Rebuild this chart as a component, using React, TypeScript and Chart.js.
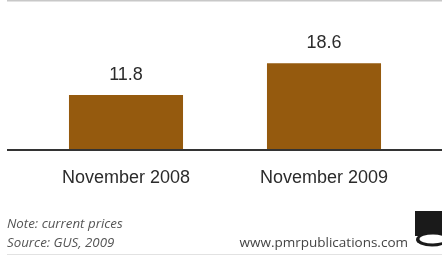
import React, { useEffect, useRef } from "react";
import { Chart, registerables } from "chart.js";

Chart.register(...registerables);

const categories = ["November 2008", "November 2009"];
const values = [11.8, 18.6];
const valueLabels = ["11.8", "18.6"];
const noteLines = ["Note: current prices", "Source: GUS, 2009"];
const website = "www.pmrpublications.com";

const decorPlugin = {
  id: "decor",
  afterDraw(chart: any) {
    const ctx = chart.ctx;
    const area = chart.chartArea;
    ctx.save();
    // top thin line
    ctx.strokeStyle = "#c8c8c8";
    ctx.lineWidth = 1.5;
    ctx.beginPath();
    ctx.moveTo(7, 0.75);
    ctx.lineTo(442, 0.75);
    ctx.stroke();
    // baseline
    ctx.strokeStyle = "#333333";
    ctx.lineWidth = 2;
    ctx.beginPath();
    ctx.moveTo(7, area.bottom);
    ctx.lineTo(442, area.bottom);
    ctx.stroke();
    // bottom thin line
    ctx.strokeStyle = "#e2e2e2";
    ctx.lineWidth = 1;
    ctx.beginPath();
    ctx.moveTo(7, 254.5);
    ctx.lineTo(442, 254.5);
    ctx.stroke();
    // value labels
    const meta = chart.getDatasetMeta(0);
    ctx.fillStyle = "#2b2b2b";
    ctx.font = "18px 'Liberation Sans', Arial, sans-serif";
    ctx.textAlign = "center";
    ctx.textBaseline = "middle";
    meta.data.forEach((bar: any, i: number) => {
      ctx.fillText(valueLabels[i], bar.x, bar.y - 20);
    });
    // notes
    ctx.fillStyle = "#555555";
    ctx.font = "italic 13.3px 'Open Sans', 'Liberation Sans', sans-serif";
    ctx.textAlign = "left";
    ctx.fillText(noteLines[0], 7, 224);
    ctx.fillText(noteLines[1], 7, 243);
    ctx.fillStyle = "#444444";
    ctx.font = "13.5px 'Open Sans', 'Liberation Sans', sans-serif";
    ctx.textAlign = "right";
    ctx.fillText(website, 408, 243);
    // logo
    ctx.fillStyle = "#1a1a1a";
    ctx.fillRect(415, 211, 27, 25);
    ctx.beginPath();
    ctx.ellipse(432, 239.5, 16, 7, 0, 0, Math.PI * 2);
    ctx.fill();
    ctx.fillStyle = "#ffffff";
    ctx.beginPath();
    ctx.ellipse(433, 239, 13.5, 4.5, 0, 0, Math.PI * 2);
    ctx.fill();
    ctx.restore();
  },
};

export default function App() {
  const ref = useRef<HTMLCanvasElement | null>(null);
  useEffect(() => {
    if (!ref.current) return;
    const chart = new Chart(ref.current, {
      type: "bar",
      data: {
        labels: categories,
        datasets: [
          {
            data: values,
            backgroundColor: "#955a0e",
            barPercentage: 0.576,
            categoryPercentage: 1,
          },
        ],
      },
      options: {
        animation: false,
        responsive: false,
        maintainAspectRatio: false,
        layout: { padding: { left: 27, right: 19, top: 10, bottom: 65 } },
        plugins: { legend: { display: false }, tooltip: { enabled: false } },
        scales: {
          x: {
            grid: { display: false, drawTicks: false },
            border: { display: false },
            ticks: {
              color: "#2b2b2b",
              font: { size: 18, family: "'Liberation Sans', Arial, sans-serif" },
              padding: 17,
              maxRotation: 0,
              autoSkip: false,
            },
            afterFit(scale: any) {
              scale.height = 40;
            },
          },
          y: { display: false, min: 0, max: 30 },
        },
      },
      plugins: [decorPlugin],
    });
    return () => chart.destroy();
  }, []);
  return (
    <div style={{ position: "fixed", left: 0, top: 0, width: 442, height: 255, background: "#fff" }}>
      <canvas ref={ref} width={442} height={255} style={{ width: 442, height: 255 }} />
    </div>
  );
}
